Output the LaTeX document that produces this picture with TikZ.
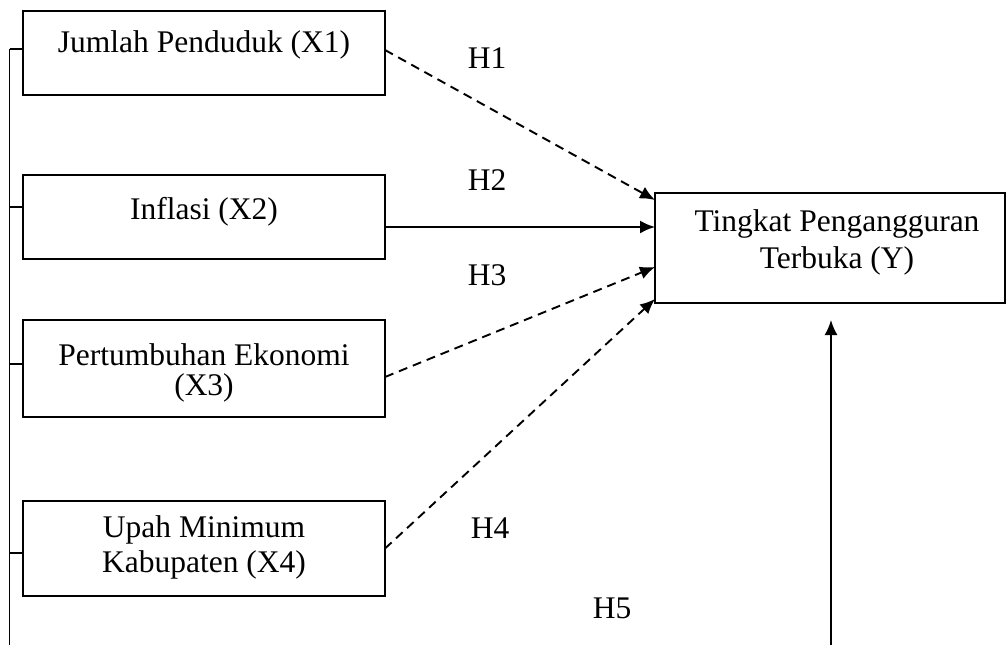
\documentclass[tikz,border=0pt]{standalone}
\usepackage{fontspec}
\setmainfont{Liberation Serif}
\usetikzlibrary{arrows.meta,calc}
\begin{document}
\begin{tikzpicture}[x=1pt,y=-1pt,
  box/.style={draw, line width=1.9pt, inner sep=0pt, outer sep=0pt},
  lbl/.style={inner sep=0pt, font=\fontsize{31.5}{36}\selectfont},
  link/.style={line width=1.9pt},
  dlink/.style={line width=1.9pt, dash pattern=on 9pt off 6pt, -{Latex[length=15pt,width=13pt]}},
  slink/.style={line width=1.9pt, -{Latex[length=15pt,width=13pt]}}
]
\useasboundingbox (0,0) rectangle (1008,645);
% boxes
\node[box, minimum width=362pt, minimum height=84pt] (b1) at (204,53) {};
\node[box, minimum width=362pt, minimum height=84pt] (b2) at (204,217) {};
\node[box, minimum width=362pt, minimum height=97pt] (b3) at (204,368.5) {};
\node[box, minimum width=362pt, minimum height=95pt] (b4) at (204,548.5) {};
\node[box, minimum width=350pt, minimum height=110pt] (y) at (830,248) {};
% texts
\node[lbl] (t1) at (204,45) {Jumlah Penduduk (X1)};
\node[lbl] (t2) at (204,212) {Inflasi (X2)};
\node[lbl] (t3a) at (204,355) {Pertumbuhan Ekonomi};
\node[lbl] (t3b) at (204,388) {(X3)};
\node[lbl] (t4a) at (204,530) {Upah Minimum};
\node[lbl] (t4b) at (204,565) {Kabupaten (X4)};
\node[lbl] (ya) at (837,224) {Tingkat Pengangguran};
\node[lbl] (yb) at (837,261) {Terbuka (Y)};
% hypothesis labels
\node[lbl] (h1) at (487,58) {H1};
\node[lbl] (h2) at (487,180) {H2};
\node[lbl] (h3) at (487,275) {H3};
\node[lbl] (h4) at (490,528) {H4};
\node[lbl] (h5) at (612,608) {H5};
% left bracket
\coordinate (ltop) at (9.5,49);
\coordinate (lbot) at (9.5,645);
\draw[link] (ltop) -- (lbot);
\draw[link] (ltop) -- (b1.west |- ltop);
\coordinate (k2) at (9.5,207);
\coordinate (k3) at (9.5,364);
\coordinate (k4) at (9.5,553);
\draw[link] (k2) -- (b2.west |- k2);
\draw[link] (k3) -- (b3.west |- k3);
\draw[link] (k4) -- (b4.west |- k4);
% arrows into Y
\coordinate (e1) at (385,50);
\coordinate (e3) at (385,377);
\coordinate (y1) at (655,200);
\coordinate (y2) at (655,227);
\coordinate (y3) at (655,267);
\coordinate (y4) at (655,299);
\draw[dlink] (e1) -- (y1);
\draw[slink] (b2.east |- y2) -- (y2);
\draw[dlink] (e3) -- (y3);
\draw[dlink] (b4.east) -- (y4);
% bottom arrow
\coordinate (h5s) at (831,645);
\coordinate (h5e) at (831,320);
\draw[slink] (h5s) -- (h5e);
\end{tikzpicture}
\end{document}
